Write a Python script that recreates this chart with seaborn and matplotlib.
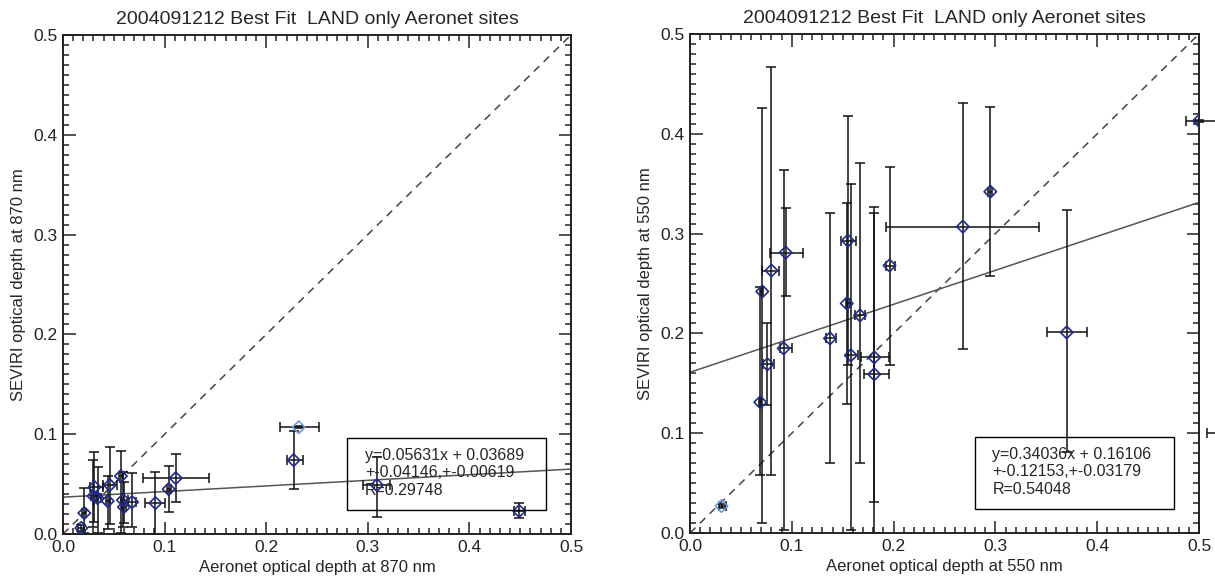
import numpy as np
import matplotlib
matplotlib.use("Agg")
import matplotlib.pyplot as plt
from matplotlib.patches import Rectangle
from matplotlib.ticker import MultipleLocator, FormatStrFormatter
import seaborn as sns

# ---------------- data ----------------
title = "2004091212 Best Fit  LAND only Aeronet sites"

# Left panel (870 nm)
l_x   = [0.018, 0.021, 0.030, 0.031, 0.034, 0.044, 0.046, 0.057, 0.059, 0.060, 0.068, 0.091, 0.104, 0.111, 0.227, 0.232, 0.309, 0.449]
l_y   = [0.006, 0.021, 0.038, 0.047, 0.036, 0.033, 0.049, 0.058, 0.034, 0.027, 0.032, 0.031, 0.045, 0.056, 0.074, 0.107, 0.049, 0.023]
l_xlo = [0.015, 0.019, 0.028, 0.027, 0.032, 0.042, 0.039, 0.055, 0.057, 0.058, 0.064, 0.081, 0.102, 0.079, 0.220, 0.214, 0.295, 0.444]
l_xhi = [0.021, 0.023, 0.034, 0.039, 0.037, 0.046, 0.053, 0.059, 0.064, 0.062, 0.072, 0.100, 0.106, 0.144, 0.236, 0.252, 0.322, 0.455]
l_ylo = [0.003, 0.001, 0.007, 0.012, 0.001, 0.005, 0.010, 0.001, 0.007, 0.011, 0.007, 0.000, 0.022, 0.032, 0.045, 0.106, 0.017, 0.016]
l_yhi = [0.009, 0.046, 0.074, 0.082, 0.067, 0.058, 0.087, 0.083, 0.062, 0.052, 0.061, 0.062, 0.068, 0.080, 0.103, 0.108, 0.077, 0.031]
l_light = [False]*15 + [True] + [False]*2
l_fit = dict(slope=0.05631, intercept=0.03689)
l_text = ["y=0.05631x + 0.03689", "+-0.04146,+-0.00619", "R=0.29748"]

# Right panel (550 nm)
r_x   = [0.031, 0.069, 0.071, 0.080, 0.076, 0.094, 0.092, 0.1375, 0.155, 0.154, 0.158, 0.167, 0.181, 0.181, 0.196, 0.268, 0.295, 0.370, 0.500, 0.525]
r_y   = [0.027, 0.131, 0.242, 0.263, 0.169, 0.281, 0.185, 0.195, 0.293, 0.230, 0.178, 0.218, 0.176, 0.159, 0.268, 0.307, 0.342, 0.201, 0.413, 0.100]
r_xlo = [0.028, 0.068, 0.070, 0.071, 0.072, 0.079, 0.088, 0.134, 0.148, 0.153, 0.155, 0.162, 0.168, 0.171, 0.193, 0.193, 0.293, 0.351, 0.487, 0.508]
r_xhi = [0.035, 0.070, 0.072, 0.087, 0.083, 0.111, 0.100, 0.143, 0.163, 0.157, 0.165, 0.172, 0.195, 0.195, 0.201, 0.343, 0.297, 0.390, 0.530, 0.545]
r_ylo = [0.025, 0.058, 0.010, 0.058, 0.128, 0.237, 0.003, 0.070, 0.168, 0.129, 0.003, 0.070, 0.031, 0.000, 0.168, 0.184, 0.258, 0.081, 0.412, 0.099]
r_yhi = [0.029, 0.246, 0.426, 0.467, 0.210, 0.326, 0.364, 0.321, 0.418, 0.331, 0.350, 0.371, 0.327, 0.321, 0.367, 0.431, 0.427, 0.324, 0.414, 0.101]
r_light = [True] + [False]*19
r_fit = dict(slope=0.34036, intercept=0.16106)
r_text = ["y=0.34036x + 0.16106", "+-0.12153,+-0.03179", "R=0.54048"]

panels = [
    dict(x=l_x, y=l_y, xlo=l_xlo, xhi=l_xhi, ylo=l_ylo, yhi=l_yhi, light=l_light,
         fit=l_fit, text=l_text, wl="870"),
    dict(x=r_x, y=r_y, xlo=r_xlo, xhi=r_xhi, ylo=r_ylo, yhi=r_yhi, light=r_light,
         fit=r_fit, text=r_text, wl="550"),
]

# ---------------- style ----------------
sns.set_style("ticks")
plt.rcParams['font.family'] = ['Liberation Sans', 'DejaVu Sans']

DARK = "#1f2a8f"
LIGHT = "#6c9be0"

fig = plt.figure(figsize=(12.15, 5.79), dpi=100)
axes_rects = [[63/1215, 45/579, 508/1215, 499/579],
              [690/1215, 46/579, 509/1215, 499/579]]

for rect, p in zip(axes_rects, panels):
    ax = fig.add_axes(rect)
    x = np.array(p["x"]); y = np.array(p["y"])
    xerr = [x - np.array(p["xlo"]), np.array(p["xhi"]) - x]
    yerr = [y - np.array(p["ylo"]), np.array(p["yhi"]) - y]
    eb = ax.errorbar(x, y, xerr=xerr, yerr=yerr, fmt='none', ecolor='#111111',
                     elinewidth=1.1, capsize=3.5, capthick=1.1, zorder=2)
    for art in list(eb.lines[1]) + list(eb.lines[2]):
        if art is not None:
            art.set_clip_on(False)

    light = np.array(p["light"])
    sns.scatterplot(x=x[~light], y=y[~light], marker='D', s=40, color='none',
                    edgecolor=DARK, linewidth=1.2, ax=ax, zorder=3)
    sns.scatterplot(x=x[light], y=y[light], marker='D', s=40, color='none',
                    edgecolor=LIGHT, linewidth=1.2, ax=ax, zorder=3)

    # 1:1 line
    xs = np.array([0.0, 0.5])
    ax.plot(xs, xs, ls=(0, (5, 4)), color='#444444', lw=1.1, zorder=1)
    # fit line
    ax.plot(xs, p["fit"]["intercept"] + p["fit"]["slope"] * xs, color='#555555', lw=1.1, zorder=1)

    # stats box
    ax.add_patch(Rectangle((0.280, 0.024), 0.195, 0.072, fill=False, ec='black', lw=1.0, zorder=4))
    for i, t in enumerate(p["text"]):
        ax.text(0.297, 0.079 - i * 0.0178, t, fontsize=11.5, va='center', ha='left', zorder=5)

    ax.set_xlim(0, 0.5)
    ax.set_ylim(0, 0.5)
    ax.xaxis.set_major_locator(MultipleLocator(0.1))
    ax.yaxis.set_major_locator(MultipleLocator(0.1))
    ax.xaxis.set_minor_locator(MultipleLocator(0.01))
    ax.yaxis.set_minor_locator(MultipleLocator(0.01))
    ax.tick_params(which='both', direction='in', top=True, right=True, width=1.1,
                   colors='#222222', labelsize=12.5, labelcolor='#222222')
    ax.tick_params(which='major', length=9, pad=4)
    ax.tick_params(which='minor', length=4.5)
    ax.xaxis.set_major_formatter(FormatStrFormatter('%.1f'))
    ax.yaxis.set_major_formatter(FormatStrFormatter('%.1f'))
    for s in ax.spines.values():
        s.set_linewidth(1.4)
        s.set_color('#222222')
    ax.set_xlabel(f"Aeronet optical depth at {p['wl']} nm", fontsize=12, labelpad=4)
    ax.set_ylabel(f"SEVIRI optical depth at {p['wl']} nm", fontsize=12, labelpad=5)
    ax.set_title(title, fontsize=14, pad=8)

fig.savefig("out.png", dpi=100)
